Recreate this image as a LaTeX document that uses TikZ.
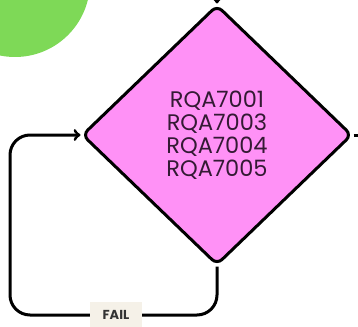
\documentclass[tikz,border=0pt]{standalone}
\usepackage{fontspec}
\setmainfont{Poppins}
\usetikzlibrary{shapes.geometric}

\definecolor{leafgreen}{RGB}{126,217,87}
\definecolor{checkpink}{RGB}{255,145,246}
\definecolor{inkpurple}{RGB}{52,26,52}
\definecolor{tagbeige}{RGB}{245,241,232}

\tikzset{
  flow/.style={line width=3pt, black},
  check/.style={diamond, draw=black, line width=3pt, fill=checkpink,
    minimum width=270pt, minimum height=260pt, inner sep=0pt,
    rounded corners=7pt, align=center, text=inkpurple,
    font=\fontsize{22.5}{23}\selectfont},
  tag/.style={fill=tagbeige, text=black!80, minimum width=52pt,
    minimum height=26pt, inner sep=0pt, font=\fontsize{13}{13}\selectfont\bfseries}
}

\begin{document}
\begin{tikzpicture}[x=1pt,y=-1pt]
\useasboundingbox (0,0) rectangle (358,326);
% The green blob in the corner
\fill[leafgreen] (15,-18) circle (75pt);
% The check
\node[check] (req) at (217,135) {RQA7001\\RQA7003\\RQA7004\\RQA7005};
% The loose ends
\coordinate (intop) at (217,-25);
\coordinate (outright) at (375,135);
\coordinate (loop) at (10,315);
\draw[flow,->] (intop) -- (req.north);
\draw[flow] (req.east) -- (outright);
% The fail loop
\draw[flow,->,rounded corners=20pt] (req.south) |- (loop) |- (req.west);
\node[tag] (fail) at (116,315) {FAIL};
\end{tikzpicture}
\end{document}
